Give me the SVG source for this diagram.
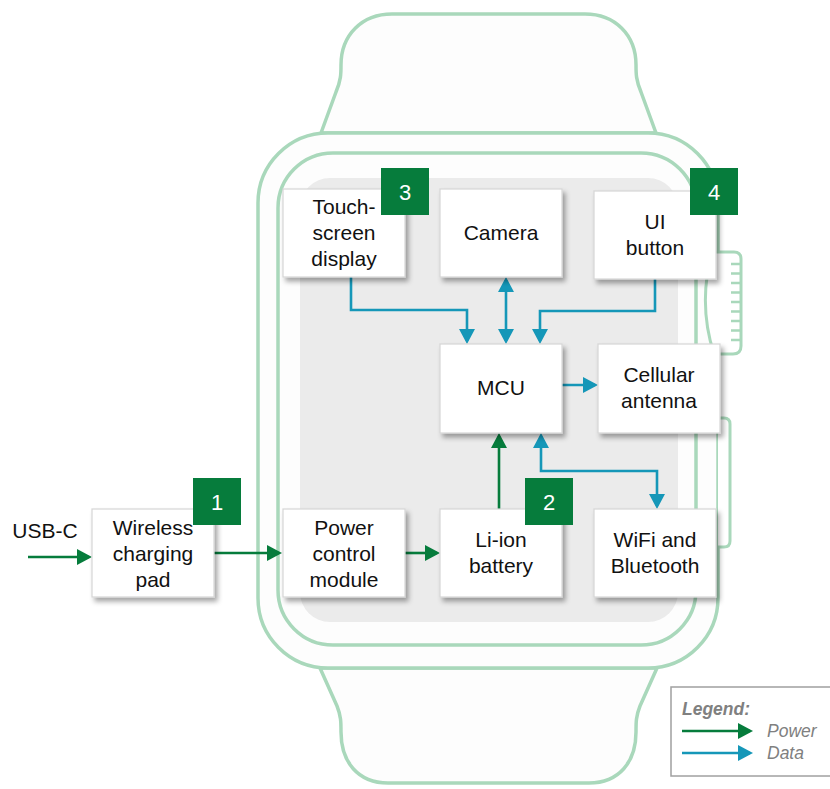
<svg xmlns="http://www.w3.org/2000/svg" width="830" height="789" viewBox="0 0 830 789">
<style>
.w{fill:#fdfdfd;stroke:#a9d8bb;stroke-width:3.5;stroke-linejoin:round}
.box{fill:#ffffff;stroke:#d6d6d6;stroke-width:1.2}
.t{font-family:"Liberation Sans",Arial,sans-serif;font-size:21px;fill:#111;text-anchor:middle}
.badge{fill:#067c3c}
.bn{font-family:"Liberation Sans",Arial,sans-serif;font-size:22px;fill:#fff;text-anchor:middle}
.pg{fill:none;stroke:#067c3c;stroke-width:2.6;marker-end:url(#hg)}
.db{fill:none;stroke:#1597b8;stroke-width:2.6;marker-end:url(#hb)}
.lg{font-family:"Liberation Sans",Arial,sans-serif;font-size:17.5px;font-style:italic;fill:#808080}
</style>
<defs>
<marker id="hg" markerUnits="userSpaceOnUse" viewBox="0 0 15 16" markerWidth="15" markerHeight="16" refX="12" refY="8" orient="auto-start-reverse"><path d="M0,0 L15,8 L0,16 Z" fill="#067c3c"/></marker>
<marker id="hb" markerUnits="userSpaceOnUse" viewBox="0 0 15 16" markerWidth="15" markerHeight="16" refX="12" refY="8" orient="auto-start-reverse"><path d="M0,0 L15,8 L0,16 Z" fill="#1597b8"/></marker>
<filter id="sh" x="-20%" y="-20%" width="150%" height="150%"><feDropShadow dx="3" dy="4" stdDeviation="2.5" flood-color="#000" flood-opacity="0.35"/></filter>
<filter id="soft"><feGaussianBlur stdDeviation="0.5"/></filter>
</defs>
<rect width="830" height="789" fill="#ffffff"/>
<g id="watch" filter="url(#soft)">
<path class="w" d="M321,133 L336,92 C341,80 341,74 341,65 C341,35 362,14 392,14 L585,14 C615,14 636,35 636,65 C636,74 636,80 641,92 L656,133 Z"/>
<path class="w" d="M320,668 L337,706 C341,716 341,722 341,732 C341,762 358,783 388,783 L589,783 C619,783 636,762 636,732 C636,722 636,716 640,706 L657,668 Z"/>
<rect class="w" x="258" y="133" width="460" height="535" rx="70"/>
<rect class="w" x="278" y="153" width="418" height="492" rx="55"/>
<rect x="300" y="178" width="378" height="444" rx="30" fill="#ebebeb"/>
<path d="M712,252 H734 Q741,252 741,259 V346 Q741,354 733,354 H714 C703,320 703,285 712,252 Z" fill="#ffffff" stroke="#a9d8bb" stroke-width="3"/>
<path d="M731,264 H741 M731,273.5 H741 M731,283 H741 M731,292.5 H741 M731,302 H741 M731,311.5 H741 M731,321 H741 M731,330.5 H741 M731,340 H741" stroke="#a9d8bb" stroke-width="2.5"/>
<path d="M718,418 H724 Q730,418 730,424 V541 Q730,547 724,547 H718" fill="#ffffff" stroke="#a9d8bb" stroke-width="3"/>
</g>
<g id="connectors">
<path class="pg" d="M28,557 H89"/>
<path class="pg" d="M214,553 H279"/>
<path class="pg" d="M405,553 H437"/>
<path class="pg" d="M499,509 V436"/>
<path class="db" d="M541,436 V471 H657 V506" style="marker-start:url(#hb)"/>
<path class="db" d="M351,277 V310 H467 V341"/>
<path class="db" d="M506,280 V341" style="marker-start:url(#hb)"/>
<path class="db" d="M655,279 V311 H540 V341"/>
<path class="db" d="M562,385 H595"/>
</g>
<text class="t" x="45" y="538">USB-C</text>
<g id="touch"><rect class="box" filter="url(#sh)" x="283" y="189" width="122" height="88"/><text class="t" x="344" y="214">Touch-</text><text class="t" x="344" y="240">screen</text><text class="t" x="344" y="266">display</text></g>
<g id="camera"><rect class="box" filter="url(#sh)" x="440" y="189" width="122" height="88"/><text class="t" x="501" y="240">Camera</text></g>
<g id="uibutton"><rect class="box" filter="url(#sh)" x="594" y="191" width="122" height="88"/><text class="t" x="655" y="229">UI</text><text class="t" x="655" y="255">button</text></g>
<g id="mcu"><rect class="box" filter="url(#sh)" x="440" y="344" width="122" height="89"/><text class="t" x="501" y="395">MCU</text></g>
<g id="cellular"><rect class="box" filter="url(#sh)" x="598" y="344" width="122" height="89"/><text class="t" x="659" y="382">Cellular</text><text class="t" x="659" y="408">antenna</text></g>
<g id="wireless"><rect class="box" filter="url(#sh)" x="92" y="509" width="122" height="88"/><text class="t" x="153" y="535">Wireless</text><text class="t" x="153" y="561">charging</text><text class="t" x="153" y="587">pad</text></g>
<g id="power"><rect class="box" filter="url(#sh)" x="283" y="509" width="122" height="88"/><text class="t" x="344" y="535">Power</text><text class="t" x="344" y="561">control</text><text class="t" x="344" y="587">module</text></g>
<g id="battery"><rect class="box" filter="url(#sh)" x="440" y="509" width="122" height="88"/><text class="t" x="501" y="547">Li-ion</text><text class="t" x="501" y="573">battery</text></g>
<g id="wifi"><rect class="box" filter="url(#sh)" x="594" y="509" width="122" height="88"/><text class="t" x="655" y="547">WiFi and</text><text class="t" x="655" y="573">Bluetooth</text></g>
<g id="badge1"><rect class="badge" x="193" y="478" width="48" height="47"/><text class="bn" x="217" y="510">1</text></g>
<g id="badge2"><rect class="badge" x="525" y="478" width="48" height="47"/><text class="bn" x="549" y="510">2</text></g>
<g id="badge3"><rect class="badge" x="381" y="168" width="48" height="47"/><text class="bn" x="405" y="200">3</text></g>
<g id="badge4"><rect class="badge" x="690" y="168" width="48" height="47"/><text class="bn" x="714" y="200">4</text></g>
<g id="legend">
<rect x="671" y="687" width="170" height="89" fill="#ffffff" stroke="#a0a0a0" stroke-width="1.5"/>
<text class="lg" x="682" y="715" font-weight="bold" fill="#777">Legend:</text>
<path class="pg" d="M682,731 H750"/>
<text class="lg" x="767" y="737">Power</text>
<path class="db" d="M682,753 H750"/>
<text class="lg" x="767" y="759">Data</text>
</g>
</svg>
